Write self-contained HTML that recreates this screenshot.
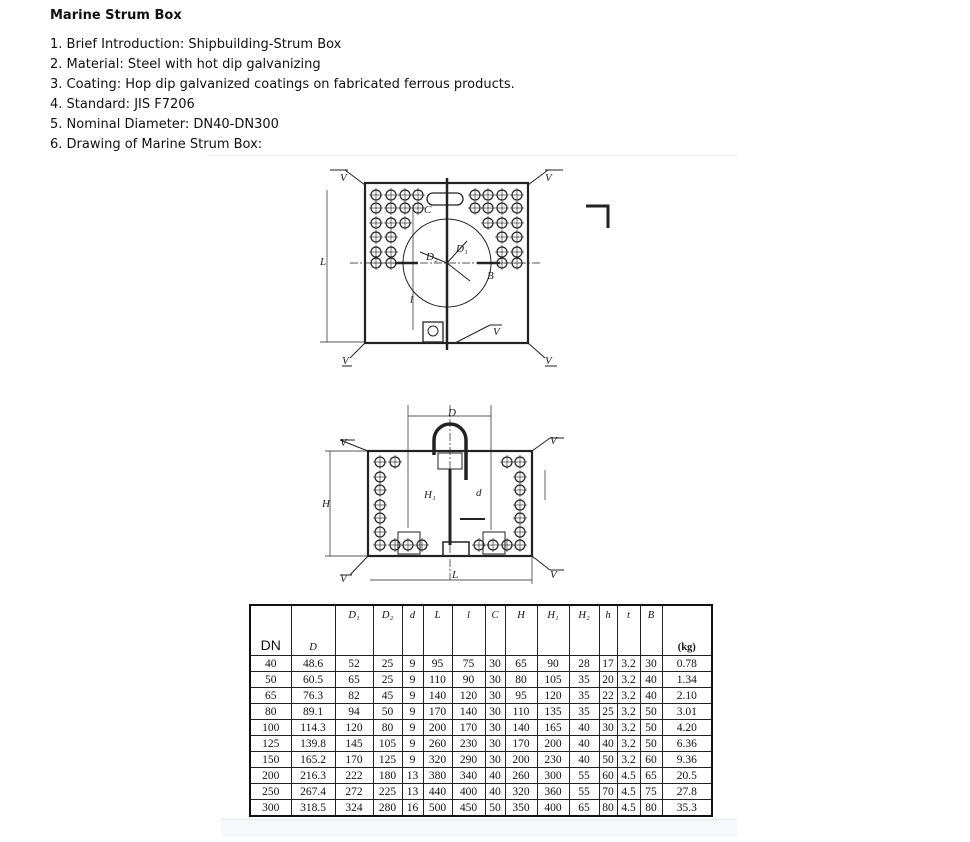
<!DOCTYPE html>
<html><head><meta charset="utf-8"><style>
body{margin:0;background:#fff;width:970px;height:842px;position:relative;overflow:hidden;font-family:"DejaVu Sans","Liberation Sans",sans-serif;color:#111}
.t{position:absolute;left:50px;font-size:13px;white-space:nowrap}
.h{font-weight:bold;font-size:13px}
svg{position:absolute;left:0;top:0}
table{position:absolute;left:249px;top:604px;border-collapse:collapse;font-family:"Liberation Serif",serif;font-size:11.5px;table-layout:fixed;width:462px}
td{border:1px solid #222;padding:0;text-align:center;height:15px;line-height:14px;overflow:hidden}
tr.hd td{height:43px;vertical-align:top;font-style:italic;font-size:10.5px;padding-top:3px}
table{border:2px solid #111}
</style></head><body>
<div class="t h" style="top:8px">Marine Strum Box</div>
<div class="t" style="top:37px">1. Brief Introduction: Shipbuilding-Strum Box</div>
<div class="t" style="top:57px">2. Material: Steel with hot dip galvanizing</div>
<div class="t" style="top:77px">3. Coating: Hop dip galvanized coatings on fabricated ferrous products.</div>
<div class="t" style="top:97px">4. Standard: JIS F7206</div>
<div class="t" style="top:117px">5. Nominal Diameter: DN40-DN300</div>
<div class="t" style="top:137px">6. Drawing of Marine Strum Box:</div>
<div style="position:absolute;left:207px;top:155px;width:531px;height:1px;background:#eceef1"></div>
<div style="position:absolute;left:221px;top:819px;width:516px;height:17px;background:#f6f8fb;border-top:1px solid #e3e6ea"></div>

<svg width="970" height="842" viewBox="0 0 970 842">
<defs>
<g id="ho"><circle r="5" fill="none" stroke="#222" stroke-width="1.2"/><line x1="-7" y1="0" x2="7" y2="0" stroke="#333" stroke-width=".7"/><line x1="0" y1="-7" x2="0" y2="7" stroke="#333" stroke-width=".7"/></g>
</defs>
<g stroke="#222" fill="none" stroke-width="1">
<rect x="365" y="183" width="163" height="160" stroke-width="2.2"/>
<line x1="447" y1="178" x2="447" y2="350" stroke-width="2.5"/>
<circle cx="447" cy="263" r="44" stroke-width="1"/>
<line x1="350" y1="263" x2="540" y2="263" stroke-dasharray="8 2 2 2" stroke-width=".7"/>
<line x1="395" y1="263" x2="418" y2="263" stroke-width="2.5"/>
<line x1="477" y1="263" x2="500" y2="263" stroke-width="2.5"/>
<rect x="427" y="193" width="36" height="12" rx="6" stroke-width="1.3"/>
<rect x="423" y="322" width="20" height="20" stroke-width="1.3"/>
<circle cx="433" cy="331" r="5"/>
<line x1="447" y1="263" x2="467" y2="241"/><line x1="447" y1="263" x2="420" y2="252"/><line x1="447" y1="263" x2="470" y2="281"/>
<line x1="327" y1="190" x2="327" y2="342" stroke-width=".7"/>
<line x1="320" y1="342" x2="365" y2="342" stroke-width=".7"/>
<line x1="413" y1="205" x2="413" y2="330" stroke-width=".7"/>
<path d="M330 170h18M545 170h18M342 366h10M545 366h12" stroke-width="1"/>
<line x1="345" y1="170" x2="365" y2="185"/><line x1="528" y1="185" x2="548" y2="170"/>
<line x1="365" y1="343" x2="350" y2="358"/><line x1="528" y1="343" x2="545" y2="358"/>
<line x1="455" y1="343" x2="490" y2="325"/><path d="M490 325h12"/>
<path d="M586 206h22v22" stroke-width="3"/>
<line x1="450" y1="405" x2="450" y2="580" stroke-width=".7" stroke-dasharray="8 2 2 2"/>
<line x1="408" y1="405" x2="408" y2="528" stroke-width=".7"/><line x1="491" y1="405" x2="491" y2="530" stroke-width=".7"/>
<line x1="408" y1="416" x2="491" y2="416" stroke-width=".7"/>
<rect x="368" y="451" width="164" height="105" stroke-width="2.2"/>
<path d="M434 455v-15a16 16 0 0 1 32 0v40" stroke-width="3.5"/>
<rect x="438" y="453" width="24" height="16"/>
<line x1="450" y1="469" x2="450" y2="545" stroke-width="3"/>
<rect x="398" y="532" width="22" height="22"/><rect x="483" y="532" width="22" height="22"/>
<rect x="443" y="542" width="26" height="14" stroke-width="1.5"/>
<line x1="330" y1="451" x2="330" y2="556" stroke-width=".7"/>
<line x1="325" y1="451" x2="368" y2="451" stroke-width=".7"/><line x1="325" y1="556" x2="368" y2="556" stroke-width=".7"/>
<line x1="370" y1="580" x2="532" y2="580" stroke-width=".7"/>
<line x1="532" y1="556" x2="532" y2="584" stroke-width=".7"/>
<line x1="340" y1="440" x2="368" y2="451"/><path d="M340 440h15"/>
<line x1="532" y1="451" x2="550" y2="438"/><path d="M550 438h14"/>
<line x1="368" y1="556" x2="350" y2="575"/><path d="M340 575h12"/>
<line x1="532" y1="556" x2="550" y2="570"/><path d="M550 570h14"/>
<line x1="545" y1="470" x2="545" y2="500" stroke-width=".7"/>
<line x1="460" y1="519" x2="485" y2="519" stroke-width="2"/>
</g>
<g>
<use href="#ho" x="376" y="195"/><use href="#ho" x="391" y="195"/><use href="#ho" x="405" y="195"/><use href="#ho" x="418" y="195"/>
<use href="#ho" x="376" y="208"/><use href="#ho" x="391" y="208"/><use href="#ho" x="405" y="208"/><use href="#ho" x="418" y="208"/>
<use href="#ho" x="376" y="223"/><use href="#ho" x="391" y="223"/><use href="#ho" x="405" y="223"/>
<use href="#ho" x="376" y="237"/><use href="#ho" x="391" y="237"/>
<use href="#ho" x="376" y="252"/><use href="#ho" x="391" y="252"/>
<use href="#ho" x="376" y="263"/><use href="#ho" x="391" y="263"/>
<use href="#ho" x="475" y="195"/><use href="#ho" x="488" y="195"/><use href="#ho" x="502" y="195"/><use href="#ho" x="517" y="195"/>
<use href="#ho" x="475" y="208"/><use href="#ho" x="488" y="208"/><use href="#ho" x="502" y="208"/><use href="#ho" x="517" y="208"/>
<use href="#ho" x="488" y="223"/><use href="#ho" x="502" y="223"/><use href="#ho" x="517" y="223"/>
<use href="#ho" x="502" y="237"/><use href="#ho" x="517" y="237"/>
<use href="#ho" x="502" y="252"/><use href="#ho" x="517" y="252"/>
<use href="#ho" x="502" y="263"/><use href="#ho" x="517" y="263"/>
<use href="#ho" x="380" y="462"/><use href="#ho" x="395" y="462"/><use href="#ho" x="380" y="477"/><use href="#ho" x="380" y="490"/><use href="#ho" x="380" y="505"/><use href="#ho" x="380" y="518"/><use href="#ho" x="380" y="532"/><use href="#ho" x="380" y="545"/><use href="#ho" x="395" y="545"/><use href="#ho" x="408" y="545"/><use href="#ho" x="422" y="545"/>
<use href="#ho" x="507" y="462"/><use href="#ho" x="520" y="462"/><use href="#ho" x="520" y="477"/><use href="#ho" x="520" y="490"/><use href="#ho" x="520" y="505"/><use href="#ho" x="520" y="518"/><use href="#ho" x="520" y="532"/><use href="#ho" x="520" y="545"/><use href="#ho" x="507" y="545"/><use href="#ho" x="493" y="545"/><use href="#ho" x="479" y="545"/>
</g>
<g font-family="Liberation Serif,serif" font-style="italic" font-size="11" fill="#222">
<text x="448" y="416">D</text><text x="452" y="578">L</text><text x="476" y="496">d</text>
<text x="456" y="252">D₁</text><text x="426" y="260">D₂</text><text x="487" y="279">B</text><text x="424" y="213">C</text>
<text x="340" y="181">V</text><text x="545" y="181">V</text><text x="342" y="364">V</text><text x="545" y="364">V</text><text x="493" y="335">V</text>
<text x="340" y="446">V</text><text x="550" y="444">V</text><text x="340" y="582">V</text><text x="550" y="578">V</text>
<text x="320" y="265">L</text><text x="322" y="507">H</text><text x="424" y="498">H₁</text><text x="410" y="303">l</text>
</g>
</svg>

<table>
<colgroup><col style="width:41px"><col style="width:44px"><col style="width:38px"><col style="width:29px"><col style="width:21px"><col style="width:29px"><col style="width:33px"><col style="width:20px"><col style="width:32px"><col style="width:32px"><col style="width:30px"><col style="width:18px"><col style="width:23px"><col style="width:22px"><col style="width:50px"></colgroup>
<tr class="hd"><td style="font-style:normal;font-family:'Liberation Sans',sans-serif;font-size:14px;vertical-align:bottom;padding-bottom:3px">DN</td><td style="vertical-align:bottom">D</td><td>D₁</td><td>D₂</td><td>d</td><td>L</td><td>l</td><td>C</td><td>H</td><td>H₁</td><td>H₂</td><td>h</td><td>t</td><td>B</td><td style="vertical-align:bottom;font-style:normal;font-weight:bold">(kg)</td></tr>
<tr><td>40</td><td>48.6</td><td>52</td><td>25</td><td>9</td><td>95</td><td>75</td><td>30</td><td>65</td><td>90</td><td>28</td><td>17</td><td>3.2</td><td>30</td><td>0.78</td></tr>
<tr><td>50</td><td>60.5</td><td>65</td><td>25</td><td>9</td><td>110</td><td>90</td><td>30</td><td>80</td><td>105</td><td>35</td><td>20</td><td>3.2</td><td>40</td><td>1.34</td></tr>
<tr><td>65</td><td>76.3</td><td>82</td><td>45</td><td>9</td><td>140</td><td>120</td><td>30</td><td>95</td><td>120</td><td>35</td><td>22</td><td>3.2</td><td>40</td><td>2.10</td></tr>
<tr><td>80</td><td>89.1</td><td>94</td><td>50</td><td>9</td><td>170</td><td>140</td><td>30</td><td>110</td><td>135</td><td>35</td><td>25</td><td>3.2</td><td>50</td><td>3.01</td></tr>
<tr><td>100</td><td>114.3</td><td>120</td><td>80</td><td>9</td><td>200</td><td>170</td><td>30</td><td>140</td><td>165</td><td>40</td><td>30</td><td>3.2</td><td>50</td><td>4.20</td></tr>
<tr><td>125</td><td>139.8</td><td>145</td><td>105</td><td>9</td><td>260</td><td>230</td><td>30</td><td>170</td><td>200</td><td>40</td><td>40</td><td>3.2</td><td>50</td><td>6.36</td></tr>
<tr><td>150</td><td>165.2</td><td>170</td><td>125</td><td>9</td><td>320</td><td>290</td><td>30</td><td>200</td><td>230</td><td>40</td><td>50</td><td>3.2</td><td>60</td><td>9.36</td></tr>
<tr><td>200</td><td>216.3</td><td>222</td><td>180</td><td>13</td><td>380</td><td>340</td><td>40</td><td>260</td><td>300</td><td>55</td><td>60</td><td>4.5</td><td>65</td><td>20.5</td></tr>
<tr><td>250</td><td>267.4</td><td>272</td><td>225</td><td>13</td><td>440</td><td>400</td><td>40</td><td>320</td><td>360</td><td>55</td><td>70</td><td>4.5</td><td>75</td><td>27.8</td></tr>
<tr><td>300</td><td>318.5</td><td>324</td><td>280</td><td>16</td><td>500</td><td>450</td><td>50</td><td>350</td><td>400</td><td>65</td><td>80</td><td>4.5</td><td>80</td><td>35.3</td></tr>
</table>
</body></html>
